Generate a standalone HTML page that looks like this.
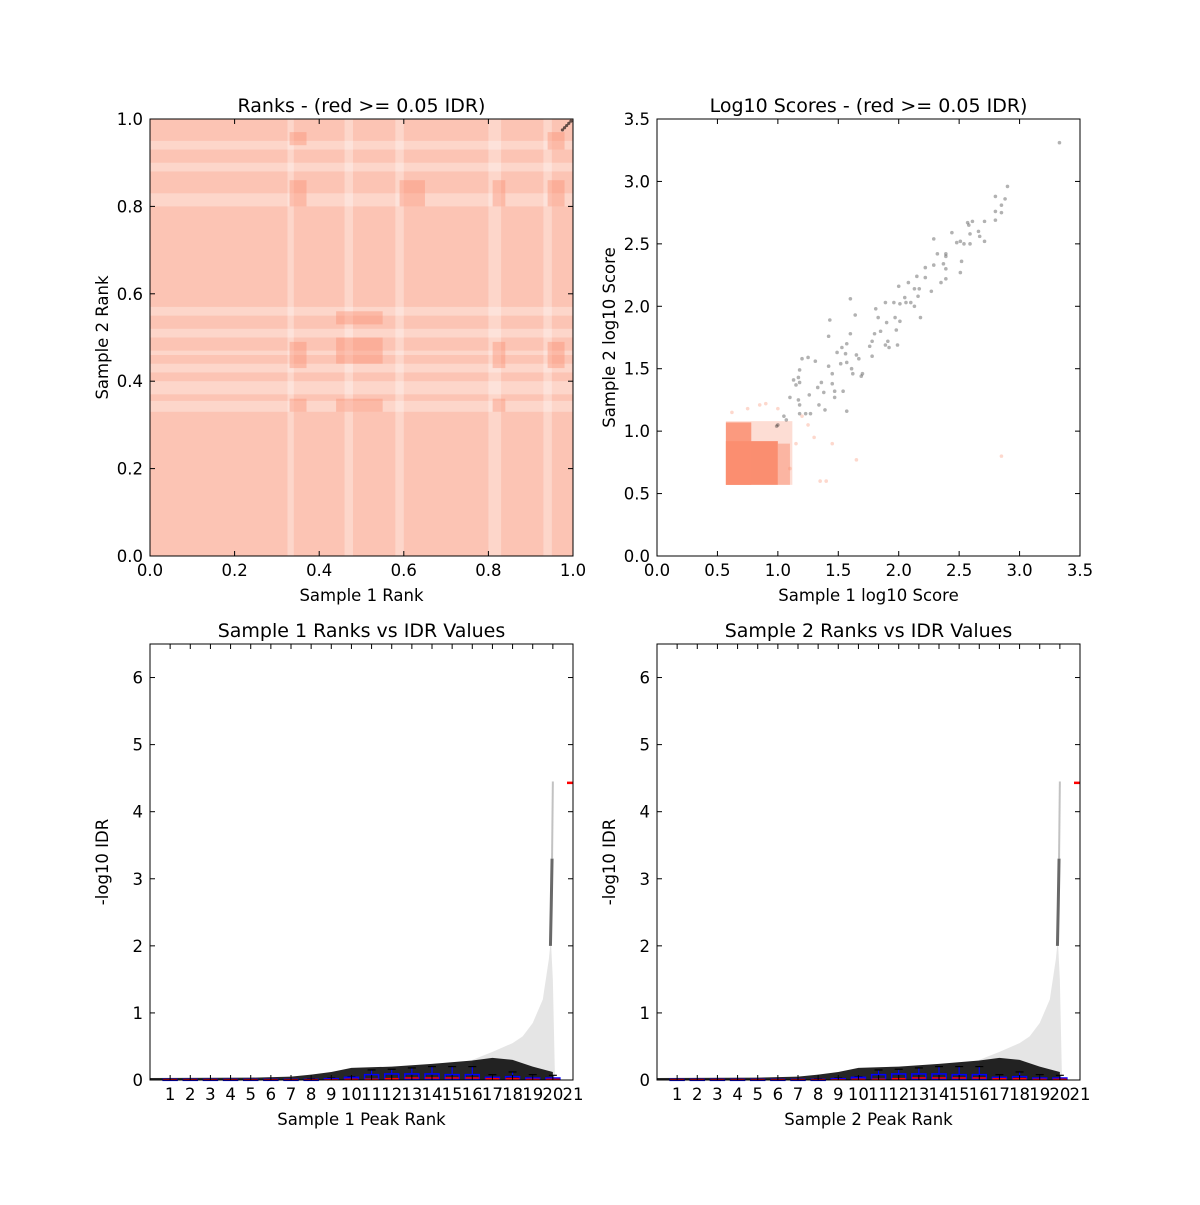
<!DOCTYPE html>
<html><head><meta charset="utf-8">
<style>
html,body{margin:0;padding:0;background:#fff;}
svg text{font-family:"DejaVu Sans","Liberation Sans",sans-serif;fill:#000;}
</style></head>
<body>
<svg id="fig" width="1200" height="1200" viewBox="0 0 1200 1200" xmlns="http://www.w3.org/2000/svg"></svg>
<script>
// ---------- data ----------
const rankTicks = [0.0,0.2,0.4,0.6,0.8,1.0];
const rankTickLabels = ["0.0","0.2","0.4","0.6","0.8","1.0"];
const rankLightRows = [[0.33,0.355],[0.37,0.40],[0.42,0.44],[0.46,0.47],[0.50,0.52],[0.55,0.57],[0.80,0.83],[0.88,0.90],[0.93,0.95]];
const rankLightCols = [[0.325,0.34],[0.46,0.48],[0.58,0.60],[0.80,0.83],[0.93,0.95]];
const rankDenseBlocks = [[0.33,0.37,0.33,0.36],[0.33,0.37,0.43,0.49],[0.33,0.37,0.80,0.86],[0.33,0.37,0.94,0.97],
  [0.44,0.55,0.44,0.50],[0.44,0.55,0.33,0.36],[0.44,0.55,0.53,0.56],[0.59,0.65,0.80,0.86],
  [0.81,0.84,0.43,0.49],[0.81,0.84,0.80,0.86],[0.81,0.84,0.33,0.36],[0.94,0.98,0.43,0.49],[0.94,0.98,0.80,0.86],[0.94,0.98,0.93,0.97]];
const rankBlackX = [0.975,0.98,0.985,0.99,0.995];
const rankBlackY = [0.975,0.98,0.985,0.99,0.995];

const scoreTicks = [0,0.5,1,1.5,2,2.5,3,3.5];
const scoreTickLabels = ["0.0","0.5","1.0","1.5","2.0","2.5","3.0","3.5"];
const scoreCloud = [[0.57,1.12,0.57,1.08,0.3],[0.57,1.0,0.57,0.92,1.0],[0.57,0.78,0.57,1.07,0.85],[1.0,1.1,0.57,0.9,0.5]];
const scoreRedX = [0.62,0.75,0.85,1.2,1.25,1.1,1.35,1.4,1.65,2.85,1.15,1.0,0.9,1.3,1.45];
const scoreRedY = [1.15,1.18,1.21,1.12,1.05,0.7,0.6,0.6,0.77,0.8,0.9,1.18,1.22,0.95,0.9];
const scoreBlackX = [2.90,2.80,2.88,2.85,2.80,2.85,2.80,2.71,2.61,2.57,2.58,2.44,2.66,2.67,2.71,2.59,2.51,2.48,2.54,2.59,2.29,2.32,2.39,2.39,2.52,2.37,2.39,2.51,2.29,2.22,2.15,2.22,2.39,2.35,2.08,2.00,2.17,2.13,2.27,2.16,2.05,1.60,1.89,1.96,2.01,2.06,2.10,2.13,1.64,1.81,1.83,1.97,2.01,2.18,1.43,1.90,1.98,1.85,1.60,1.80,1.42,1.78,1.91,1.89,1.99,1.92,1.76,1.57,1.53,1.49,1.56,1.65,1.78,1.67,1.57,1.52,1.25,1.20,1.31,1.42,1.61,1.18,1.45,1.62,1.70,1.69,1.17,1.13,1.36,1.45,1.15,1.18,1.33,1.47,1.54,1.38,1.26,1.10,1.47,1.17,1.18,1.34,1.39,1.57,1.18,1.23,1.27,1.05,1.07,1.00,0.99,3.33];
const scoreBlackY = [2.96,2.88,2.86,2.81,2.76,2.75,2.69,2.68,2.68,2.67,2.65,2.59,2.60,2.56,2.52,2.58,2.52,2.51,2.50,2.50,2.54,2.42,2.42,2.40,2.36,2.34,2.30,2.27,2.33,2.31,2.24,2.23,2.22,2.19,2.19,2.16,2.14,2.14,2.12,2.08,2.07,2.06,2.03,2.03,2.02,2.03,2.03,2.00,1.93,1.98,1.91,1.91,1.88,1.91,1.89,1.87,1.81,1.80,1.78,1.78,1.76,1.72,1.72,1.69,1.69,1.67,1.68,1.70,1.67,1.63,1.62,1.61,1.60,1.58,1.55,1.54,1.59,1.58,1.56,1.52,1.50,1.49,1.46,1.46,1.46,1.44,1.43,1.41,1.39,1.38,1.37,1.39,1.35,1.32,1.32,1.31,1.29,1.27,1.27,1.25,1.21,1.21,1.17,1.16,1.14,1.14,1.14,1.12,1.09,1.05,1.04,3.31];

const idrTicks = [0,1,2,3,4,5,6];
const idrTickLabels = ["0","1","2","3","4","5","6"];
const peakRankTicks = [1,2,3,4,5,6,7,8,9,10,11,12,13,14,15,16,17,18,19,20,21];
const peakRankLabels = ["1","2","3","4","5","6","7","8","9","10","11","12","13","14","15","16","17","18","19","20","21"];
const coreRank = [0,5,7,8,9,10,12,14,16,17,18,19,20];
const coreVal  = [0.03,0.035,0.05,0.08,0.12,0.18,0.2,0.24,0.29,0.33,0.3,0.2,0.12];
const spreadRank = [16,17,18,18.5,19,19.5,19.8,19.9,20,20.1];
const spreadVal  = [0.3,0.42,0.55,0.65,0.85,1.2,1.8,2.1,1.5,0.1];
const spikeRank = [19.88,19.92,19.96,20.0];
const spikeVal  = [2.0,2.6,3.3,4.45];
const boxPos   = [1,2,3,4,5,6,7,8,9,10,11,12,13,14,15,16,17,18,19,20];
const boxQ3    = [0.01,0.01,0.01,0.01,0.01,0.01,0.01,0.01,0.02,0.04,0.08,0.09,0.09,0.09,0.08,0.08,0.04,0.05,0.03,0.03];
const boxWhisk = [0.01,0.01,0.01,0.01,0.01,0.01,0.01,0.02,0.03,0.05,0.15,0.16,0.18,0.2,0.2,0.2,0.08,0.12,0.08,0.07];
const boxMed   = [0.005,0.005,0.005,0.005,0.005,0.005,0.005,0.005,0.005,0.01,0.01,0.02,0.03,0.03,0.03,0.03,0.02,0.02,0.01,0.01];
const redMarkRank = [21];
const redMarkVal = [4.43];

// ---------- helpers ----------
const NS = "http://www.w3.org/2000/svg";
const svg = document.getElementById('fig');
function mk(tag, attrs, parent){ const e=document.createElementNS(NS,tag); for(const k in attrs) e.setAttribute(k,attrs[k]); (parent||svg).appendChild(e); return e; }
function lin(d0,d1,r0,r1){ return v => r0 + (v-d0)/(d1-d0)*(r1-r0); }

function axesFrame(g, x0,y0,x1,y1, xs, ys, xt, xl, yt, yl, title, xlab, ylab, name){
  const fr = mk('rect',{x:x0,y:y0,width:x1-x0,height:y1-y0,fill:'none',stroke:'#000','stroke-width':1},g);
   
  const xg = mk('g',{},g);  
  xt.forEach((t,i)=>{ const px=xs(t);
    mk('line',{x1:px,y1:y1,x2:px,y2:y1-5,stroke:'#000'},xg); mk('line',{x1:px,y1:y0,x2:px,y2:y0+5,stroke:'#000'},xg);
    const tx=mk('text',{x:px,y:y1+20,'text-anchor':'middle','font-size':16.5},xg); tx.textContent=xl[i];
      });
  const yg = mk('g',{},g);  
  yt.forEach((t,i)=>{ const py=ys(t);
    mk('line',{x1:x0,y1:py,x2:x0+5,y2:py,stroke:'#000'},yg); mk('line',{x1:x1,y1:py,x2:x1-5,y2:py,stroke:'#000'},yg);
    const tx=mk('text',{x:x0-7,y:py+6,'text-anchor':'end','font-size':16.5},yg); tx.textContent=yl[i];
      });
  const tt=mk('text',{x:(x0+x1)/2,y:y0-7,'text-anchor':'middle','font-size':19},g); tt.textContent=title;
   
  const xa=mk('text',{x:(x0+x1)/2,y:y1+45,'text-anchor':'middle','font-size':16.5},g); xa.textContent=xlab;
   
  const cy=(y0+y1)/2;
  const ya=mk('text',{x:0,y:0,'text-anchor':'middle','font-size':16.5,transform:`translate(${x0-42},${cy}) rotate(-90)`},g); ya.textContent=ylab;
   
}

// ---------- panel 1: ranks ----------
(function(){
  const x0=150,x1=573,y0=119,y1=556;
  const g=mk('g',{});  
  const xs=lin(0,1,x0,x1), ys=lin(0,1,y1,y0);
  const base=mk('rect',{x:x0,y:y0,width:x1-x0,height:y1-y0,fill:'#fa9a7e','fill-opacity':0.58},g);
   
  rankLightRows.forEach(b=>{ const r=mk('rect',{x:x0,y:ys(b[1]),width:x1-x0,height:ys(b[0])-ys(b[1]),fill:'#fff','fill-opacity':0.3},g);
      });
  rankLightCols.forEach(b=>{ const r=mk('rect',{x:xs(b[0]),y:y0,width:xs(b[1])-xs(b[0]),height:y1-y0,fill:'#fff','fill-opacity':0.3},g);
      });
  rankDenseBlocks.forEach(b=>{ const r=mk('rect',{x:xs(b[0]),y:ys(b[3]),width:xs(b[1])-xs(b[0]),height:ys(b[2])-ys(b[3]),fill:'#fa8e70','fill-opacity':0.4},g);
      });
  rankBlackX.forEach((v,i)=>{ const c=mk('circle',{cx:xs(v),cy:ys(rankBlackY[i]),r:1.6,fill:'#000','fill-opacity':0.6},g);
      });
  axesFrame(g,x0,y0,x1,y1,xs,ys,rankTicks,rankTickLabels,rankTicks,rankTickLabels,'Ranks - (red >= 0.05 IDR)','Sample 1 Rank','Sample 2 Rank','ranks');
})();

// ---------- panel 2: scores ----------
(function(){
  const x0=657,x1=1080,y0=119,y1=556;
  const g=mk('g',{});  
  const xs=lin(0,3.5,x0,x1), ys=lin(0,3.5,y1,y0);
  scoreCloud.forEach(b=>{ const r=mk('rect',{x:xs(b[0]),y:ys(b[3]),width:xs(b[1])-xs(b[0]),height:ys(b[2])-ys(b[3]),fill:'#fa8e70','fill-opacity':b[4]},g);
      });
  scoreRedX.forEach((v,i)=>{ const c=mk('circle',{cx:xs(v),cy:ys(scoreRedY[i]),r:1.8,fill:'#fa8e70','fill-opacity':0.35},g);
      });
  scoreBlackX.forEach((v,i)=>{ const c=mk('circle',{cx:xs(v),cy:ys(scoreBlackY[i]),r:1.8,fill:'#000','fill-opacity':0.3},g);
      });
  axesFrame(g,x0,y0,x1,y1,xs,ys,scoreTicks,scoreTickLabels,scoreTicks,scoreTickLabels,'Log10 Scores - (red >= 0.05 IDR)','Sample 1 log10 Score','Sample 2 log10 Score','scores');
})();

// ---------- panels 3/4: IDR ----------
function idrPanel(x0, sample){
  const x1=x0+423,y0=644,y1=1080;
  const g=mk('g',{});  
  const xs=lin(0,21,x0,x1), ys=lin(0,6.5,y1,y0);
  let d='M'+xs(spreadRank[0])+','+ys(0);
  spreadRank.forEach((r,i)=>{ d+=' L'+xs(r)+','+ys(spreadVal[i]); });
  d+=' L'+xs(spreadRank[spreadRank.length-1])+','+ys(0)+' Z';
  const sp=mk('path',{d:d,fill:'#000','fill-opacity':0.1},g);
   
  d='M'+xs(coreRank[0])+','+ys(0);
  coreRank.forEach((r,i)=>{ d+=' L'+xs(r)+','+ys(coreVal[i]); });
  d+=' L'+xs(coreRank[coreRank.length-1])+','+ys(0)+' Z';
  const co=mk('path',{d:d,fill:'#000','fill-opacity':0.85},g);
   
  let pts=spikeRank.slice(0,3).map((r,i)=>xs(r)+','+ys(spikeVal[i])).join(' ');
  const sk=mk('polyline',{points:pts,fill:'none',stroke:'#444','stroke-width':3,'stroke-opacity':0.8},g);
   
  pts=spikeRank.slice(2).map((r,i)=>xs(r)+','+ys(spikeVal[i+2])).join(' ');
  const sk2=mk('polyline',{points:pts,fill:'none',stroke:'#999','stroke-width':2,'stroke-opacity':0.6},g);
   
  boxPos.forEach((p,i)=>{
    const bg=mk('g',{},g);  
    const cx=xs(p), w=14;
    mk('line',{x1:cx,y1:ys(boxQ3[i]),x2:cx,y2:ys(boxWhisk[i]),stroke:'#00f','stroke-width':1.2},bg);
    mk('line',{x1:cx-4,y1:ys(boxWhisk[i]),x2:cx+4,y2:ys(boxWhisk[i]),stroke:'#000','stroke-width':1.2},bg);
    mk('rect',{x:cx-w/2,y:ys(boxQ3[i]),width:w,height:Math.max(1,ys(0)-ys(boxQ3[i])-1),fill:'none',stroke:'#00f','stroke-width':1.5},bg);
    mk('line',{x1:cx-w/2,y1:ys(boxMed[i]),x2:cx+w/2,y2:ys(boxMed[i]),stroke:'#f00','stroke-width':1.5},bg);
  });
  redMarkRank.forEach((r,i)=>{ const m=mk('line',{x1:xs(r)-6,y1:ys(redMarkVal[i]),x2:xs(r),y2:ys(redMarkVal[i]),stroke:'#f00','stroke-width':2.5},g);
      });
  axesFrame(g,x0,y0,x1,y1,xs,ys,peakRankTicks,peakRankLabels,idrTicks,idrTickLabels,'Sample '+sample+' Ranks vs IDR Values','Sample '+sample+' Peak Rank','-log10 IDR','sample'+sample+'-idr');
}
idrPanel(150,1);
idrPanel(657,2);
</script>
</body></html>
